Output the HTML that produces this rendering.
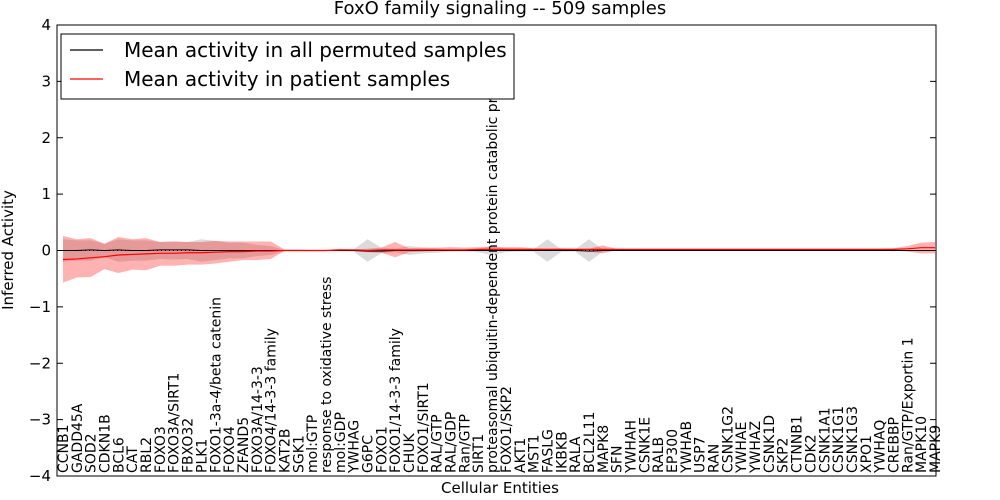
<!DOCTYPE html>
<html><head><meta charset="utf-8">
<style>
body{margin:0;background:#fff;}
svg{display:block;font-family:"DejaVu Sans","Liberation Sans",sans-serif;}
</style></head>
<body>
<svg id="chart" width="1000" height="500" viewBox="0 0 1000 500">
<rect x="0" y="0" width="1000" height="500" fill="#fff"/>
<text x="500" y="14" font-size="18" text-anchor="middle">FoxO family signaling -- 509 samples</text>
<g id="bands"></g>
<g id="lines"></g>
<rect x="57" y="25" width="879" height="451" fill="none" stroke="#000" stroke-width="1"/>
<g id="yticks"></g>
<g id="xlabels"></g>
<text x="500" y="493" font-size="15" text-anchor="middle">Cellular Entities</text>
<text transform="translate(13,250) rotate(-90)" font-size="15" text-anchor="middle">Inferred Activity</text>
<g>
<rect x="61" y="34" width="453" height="65" fill="#fff" stroke="#000" stroke-width="1"/>
<line x1="70" y1="50" x2="103" y2="50" stroke="#000" stroke-width="1.2"/>
<text x="124" y="57" font-size="20">Mean activity in all permuted samples</text>
<line x1="70" y1="79" x2="103" y2="79" stroke="#f00" stroke-width="1.2"/>
<text x="124" y="86" font-size="20">Mean activity in patient samples</text>
</g>
</svg>
<script>
const categories=["CCNB1","GADD45A","SOD2","CDKN1B","BCL6","CAT","RBL2","FOXO3","FOXO3A/SIRT1","FBXO32","PLK1","FOXO1-3a-4/beta catenin","FOXO4","ZFAND5","FOXO3A/14-3-3","FOXO4/14-3-3 family","KAT2B","SGK1","mol:GTP","response to oxidative stress","mol:GDP","YWHAG","G6PC","FOXO1","FOXO1/14-3-3 family","CHUK","FOXO1/SIRT1","RAL/GTP","RAL/GDP","Ran/GTP","SIRT1","proteasomal ubiquitin-dependent protein catabolic pr","FOXO1/SKP2","AKT1","MST1","FASLG","IKBKB","RALA","BCL2L11","MAPK8","SFN","YWHAH","CSNK1E","RALB","EP300","YWHAB","USP7","RAN","CSNK1G2","YWHAE","YWHAZ","CSNK1D","SKP2","CTNNB1","CDK2","CSNK1A1","CSNK1G1","CSNK1G3","XPO1","YWHAQ","CREBBP","Ran/GTP/Exportin 1","MAPK10","MAPK9"];
const patientMean=[-0.16,-0.15,-0.13,-0.11,-0.08,-0.07,-0.06,-0.05,-0.05,-0.04,-0.04,-0.03,-0.02,-0.02,-0.01,-0.01,0.0,0.0,0.0,0.0,0.01,0.01,0.0,0.01,0.01,0.01,0.01,0.01,0.01,0.01,0.02,0.02,0.02,0.02,0.02,0.02,0.02,0.02,0.02,0.02,0.02,0.02,0.02,0.02,0.02,0.02,0.02,0.02,0.02,0.02,0.02,0.02,0.02,0.02,0.02,0.02,0.02,0.02,0.02,0.02,0.02,0.03,0.05,0.05];
const patientUpper=[0.26,0.2,0.22,0.12,0.24,0.2,0.22,0.15,0.16,0.15,0.15,0.17,0.16,0.16,0.16,0.16,0.02,0.02,0.01,0.01,0.03,0.02,0.03,0.05,0.15,0.04,0.05,0.05,0.06,0.05,0.06,0.07,0.06,0.06,0.04,0.03,0.04,0.03,0.03,0.09,0.03,0.03,0.03,0.03,0.03,0.03,0.03,0.03,0.03,0.03,0.03,0.03,0.03,0.03,0.03,0.03,0.03,0.03,0.03,0.03,0.04,0.08,0.14,0.15];
const patientLower=[-0.57,-0.48,-0.47,-0.33,-0.4,-0.34,-0.35,-0.27,-0.27,-0.25,-0.25,-0.23,-0.2,-0.17,-0.17,-0.15,-0.01,-0.01,-0.01,-0.01,-0.01,-0.01,-0.03,-0.04,-0.12,-0.03,-0.02,-0.01,-0.01,-0.01,0.0,0.0,0.0,0.0,0.0,0.0,0.0,0.0,-0.02,-0.05,0.01,0.01,0.01,0.01,0.01,0.01,0.01,0.01,0.01,0.01,0.01,0.01,0.01,0.01,0.01,0.01,0.01,0.01,0.01,0.01,0.0,-0.02,-0.05,-0.05];
const permMean=[0.0,0.0,0.01,0.0,0.01,0.0,0.0,0.01,0.01,0.01,0.0,0.0,0.0,0.0,0.0,0.0,0.0,0.0,0.0,0.0,0.0,0.0,-0.01,-0.01,0.0,0.0,0.0,0.0,0.0,0.0,0.0,0.0,0.0,0.0,0.0,0.0,0.0,0.0,-0.01,0.0,0.0,0.0,0.0,0.0,0.0,0.0,0.0,0.0,0.0,0.0,0.0,0.0,0.0,0.0,0.0,0.0,0.0,0.0,0.0,0.0,0.0,0.0,0.0,0.0];
const permUpper=[0.2,0.18,0.18,0.12,0.2,0.18,0.18,0.15,0.16,0.15,0.2,0.17,0.14,0.14,0.1,0.08,0.01,0.01,0.01,0.01,0.01,0.02,0.2,0.05,0.03,0.08,0.05,0.04,0.02,0.02,0.03,0.08,0.03,0.02,0.02,0.2,0.02,0.02,0.2,0.02,0.01,0.01,0.01,0.01,0.01,0.01,0.01,0.01,0.01,0.01,0.01,0.01,0.01,0.01,0.01,0.01,0.01,0.01,0.01,0.01,0.01,0.01,0.01,0.01];
const permLower=[-0.2,-0.18,-0.18,-0.12,-0.2,-0.18,-0.18,-0.15,-0.16,-0.15,-0.2,-0.17,-0.14,-0.14,-0.1,-0.08,-0.01,-0.01,-0.01,-0.01,-0.01,-0.02,-0.2,-0.05,-0.03,-0.08,-0.05,-0.04,-0.02,-0.02,-0.03,-0.08,-0.03,-0.02,-0.02,-0.2,-0.02,-0.02,-0.2,-0.02,-0.01,-0.01,-0.01,-0.01,-0.01,-0.01,-0.01,-0.01,-0.01,-0.01,-0.01,-0.01,-0.01,-0.01,-0.01,-0.01,-0.01,-0.01,-0.01,-0.01,-0.01,-0.01,-0.01,-0.01];
const yTicks=[-4,-3,-2,-1,0,1,2,3,4];

const NS="http://www.w3.org/2000/svg";
const X0=63,X1=935,Y0=25,Y1=476,YMIN=-4,YMAX=4;
function xs(i){return X0+i*(X1-X0)/(categories.length-1);}
function ys(v){return Y1-(v-YMIN)/(YMAX-YMIN)*(Y1-Y0);}
function mk(tag,parent){const e=document.createElementNS(NS,tag);document.getElementById(parent).appendChild(e);return e;}
function bandPath(up,lo){let d="";up.forEach((v,i)=>{d+=(i?"L":"M")+xs(i)+","+ys(v);});for(let i=lo.length-1;i>=0;i--)d+="L"+xs(i)+","+ys(lo[i]);return d+"Z";}
function linePath(a){return a.map((v,i)=>(i?"L":"M")+xs(i)+","+ys(v)).join("");}

const gb=mk("path","bands");


gb.setAttribute("d",bandPath(permUpper,permLower));gb.setAttribute("fill","#888");gb.setAttribute("fill-opacity","0.3");
const rb=mk("path","bands");


rb.setAttribute("d",bandPath(patientUpper,patientLower));rb.setAttribute("fill","#f00");rb.setAttribute("fill-opacity","0.3");

const zl=mk("line","lines");


zl.setAttribute("x1",57);zl.setAttribute("x2",936);zl.setAttribute("y1",ys(0));zl.setAttribute("y2",ys(0));zl.setAttribute("stroke","#000");zl.setAttribute("stroke-dasharray","1,3");
const bl=mk("path","lines");


bl.setAttribute("d",linePath(permMean));bl.setAttribute("fill","none");bl.setAttribute("stroke","#000");bl.setAttribute("stroke-width","1");
const rl=mk("path","lines");


rl.setAttribute("d",linePath(patientMean));rl.setAttribute("fill","none");rl.setAttribute("stroke","#f00");rl.setAttribute("stroke-width","1.2");

yTicks.forEach(t=>{
  const y=ys(t);
  const l=mk("line","yticks");
  
  
  l.setAttribute("x1",57);l.setAttribute("x2",63);l.setAttribute("y1",y);l.setAttribute("y2",y);l.setAttribute("stroke","#000");
  const l2=mk("line","yticks");
  
  
  l2.setAttribute("x1",930);l2.setAttribute("x2",936);l2.setAttribute("y1",y);l2.setAttribute("y2",y);l2.setAttribute("stroke","#000");
  const tx=mk("text","yticks");
  
  
  tx.setAttribute("x",51);tx.setAttribute("y",y+5);tx.setAttribute("font-size","15");tx.setAttribute("text-anchor","end");
  tx.textContent=(t<0?"\u2212"+(-t):t);
});
categories.forEach((c,i)=>{
  const tx=mk("text","xlabels");
  
  
  const x=xs(i)+5;
  tx.setAttribute("transform","translate("+x+",473) rotate(-90)");
  tx.setAttribute("font-size","14");
  tx.textContent=c;
});
</script>
</body></html>
